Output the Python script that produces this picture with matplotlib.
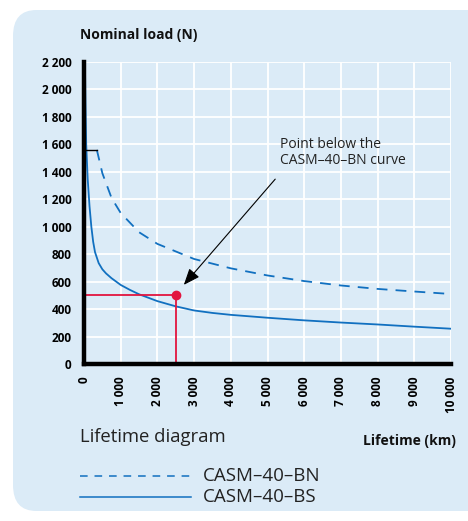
import matplotlib
matplotlib.use("Agg")
import matplotlib.pyplot as plt
from matplotlib.patches import FancyBboxPatch

plt.rcParams['font.family'] = ['Open Sans', 'DejaVu Sans']

# lifetime (km) and nominal load (N)
bn_km = [350, 500, 750, 1000, 1500, 2000, 3000, 4000, 5000, 6000, 7000, 8000, 9000, 10000]
bn_load = [1560, 1390, 1210, 1100, 960, 875, 765, 697, 645, 604, 572, 547, 528, 510]
bs_km = [25, 40, 60, 100, 150, 200, 250, 300, 400, 500, 600, 750, 1000, 1250, 1500,
         2000, 2500, 3000, 3500, 4000, 5000, 6000, 7000, 8000, 9000, 10000]
bs_load = [2200, 1900, 1600, 1350, 1150, 1000, 890, 815, 735, 690, 660, 625, 576, 540, 508,
           458, 420, 390, 372, 358, 337, 318, 302, 288, 272, 257]
plateau_km = [0, 350]
plateau_load = [1560, 1560]
point_km = 2500
point_load = 500

x_ticks = list(range(0, 10001, 1000))
y_ticks = list(range(0, 2201, 200))

blue = '#1170c0'
red = '#e2153f'
bg = '#dbebf7'


def fmt(v):
    return f"{v:,}".replace(",", " ")


fig = plt.figure(figsize=(4.68, 5.21), dpi=100)
fig.patches.append(FancyBboxPatch((13 / 468, 10 / 521), 480 / 468, 501 / 521,
                                  boxstyle="round,pad=0,rounding_size=0.05",
                                  transform=fig.transFigure, facecolor=bg,
                                  edgecolor='none', zorder=-10))

ax = fig.add_axes([84 / 468, 1 - 364 / 521, 367 / 468, 302 / 521])
ax.set_facecolor(bg)
ax.set_xlim(0, 10000)
ax.set_ylim(0, 2200)

ax.grid(True, color='white', linewidth=1.3)
ax.set_axisbelow(True)

ax.plot(bn_km, bn_load, color=blue, linewidth=1.3, dashes=(6, 4.5))
ax.plot(bs_km, bs_load, color=blue, linewidth=1.3)
ax.plot(plateau_km, plateau_load, color='black', linewidth=1)

# red reading lines
ax.plot([0, point_km], [point_load, point_load], color=red, linewidth=1.3)
ax.plot([point_km, point_km], [0, point_load], color=red, linewidth=1.3)
ax.plot(point_km, point_load, 'o', color=red, markersize=6, zorder=5)

ax.annotate("", xy=(2670, 561), xytext=(5260, 1362),
            arrowprops=dict(arrowstyle="-|>,head_length=1.0,head_width=0.4",
                            color='black', linewidth=0.8))
ax.text(5340, 1650, "Point below the\nCASM\u201340\u2013BN curve", fontsize=10,
        va='top', ha='left', color='#222222', linespacing=1.0)

for s in ['top', 'right']:
    ax.spines[s].set_visible(False)
for s in ['left', 'bottom']:
    ax.spines[s].set_linewidth(3.2)
    ax.spines[s].set_color('black')

ax.set_xticks(x_ticks)
ax.set_yticks(y_ticks)
ax.set_xticklabels([fmt(v) for v in x_ticks], rotation=90, fontweight='bold', fontsize=8.5)
ax.set_yticklabels([fmt(v) for v in y_ticks], fontweight='bold', fontsize=8.5)
ax.tick_params(length=0, pad=9)

fig.text(80 / 468, 1 - 35 / 521, "Nominal load (N)", fontsize=10, fontweight='bold',
         va='center', ha='left', color='#111111')
fig.text(80 / 468, 1 - 437 / 521, "Lifetime diagram", fontsize=13.3,
         va='center', ha='left', color='#222222')
fig.text(456 / 468, 1 - 441 / 521, "Lifetime (km)", fontsize=10, fontweight='bold',
         va='center', ha='right', color='#111111')

# legend drawn by hand below the chart
fig.add_artist(plt.Line2D([80 / 468, 191 / 468], [1 - 476 / 521, 1 - 476 / 521],
                          transform=fig.transFigure, color=blue, linewidth=1.1, dashes=(5, 4.5)))
fig.add_artist(plt.Line2D([80 / 468, 191 / 468], [1 - 497 / 521, 1 - 497 / 521],
                          transform=fig.transFigure, color=blue, linewidth=1.1))
fig.text(203 / 468, 1 - 476 / 521, "CASM\u201340\u2013BN", fontsize=13.5, va='center',
         ha='left', color='#222222')
fig.text(203 / 468, 1 - 497 / 521, "CASM\u201340\u2013BS", fontsize=13.5, va='center',
         ha='left', color='#222222')

fig.savefig("out.png", dpi=100)
